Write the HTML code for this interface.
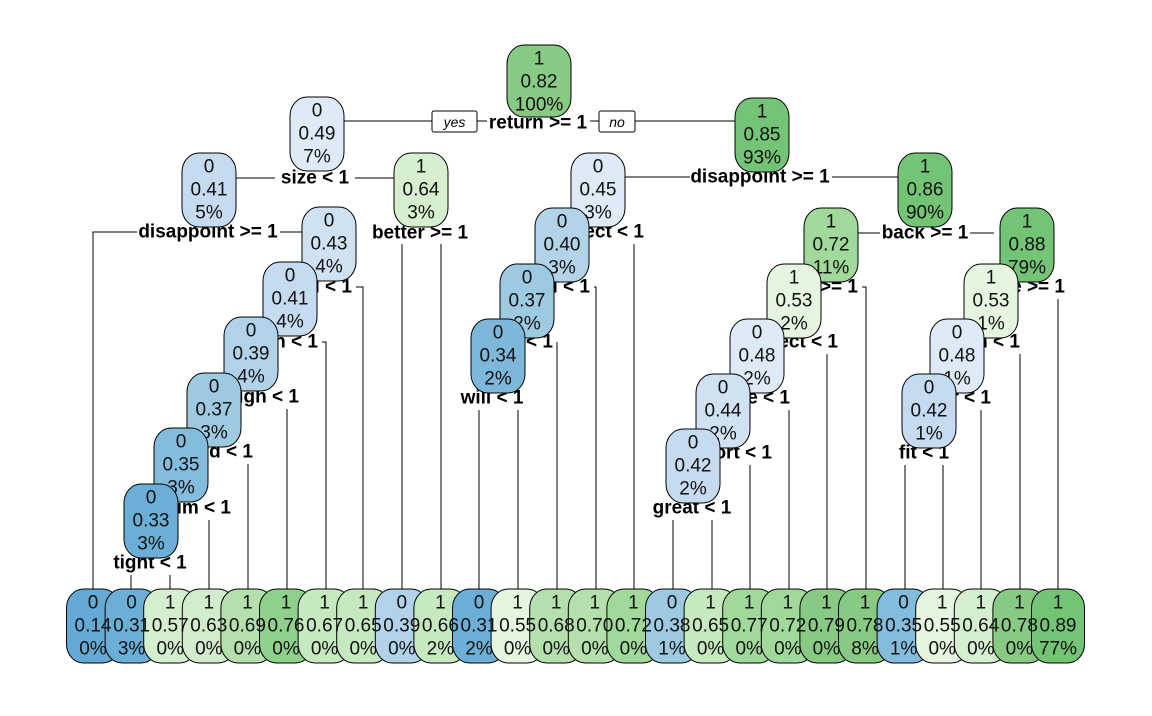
<!DOCTYPE html>
<html><head><meta charset="utf-8"><style>
html,body{margin:0;padding:0;background:#fff;}
svg text{font-family:"Liberation Sans",Arial,sans-serif;}
</style></head><body>
<svg id="s" xmlns="http://www.w3.org/2000/svg" width="1152" height="711" viewBox="0 0 1152 711">
<rect width="1152" height="711" fill="#fff"/>
<g id="lines" stroke="#000" stroke-width="1" fill="none"></g>
<g id="labels" font-weight="bold" font-size="19" fill="#000"></g>
<g id="nodes"></g>
<g id="ltext"></g>
</svg>
<script>
var NS="http://www.w3.org/2000/svg";
function el(p,t,a,txt){var e=document.createElementNS(NS,t);for(var k in a)e.setAttribute(k,a[k]);if(txt!==undefined)e.textContent=txt;document.getElementById(p).appendChild(e);return e;}
function line(x1,y1,x2,y2){el("lines","line",{x1:x1,y1:y1,x2:x2,y2:y2});}
function poly(pts){el("lines","polyline",{points:pts});}
function lab(x,y,t,anchor){el("labels","text",{x:x,y:y,"text-anchor":anchor||"middle","dominant-baseline":"central"},t);}
function col(v,c){
 var b={0.14:"#65aad4",0.31:"#6baed6",0.33:"#6baed6",0.34:"#7db8da",0.35:"#84bcdc",0.37:"#9ecae1",0.38:"#9ecae1",0.39:"#b1d2e8",0.40:"#b3d3e8",0.41:"#c6dbef",0.42:"#c6dbef",0.43:"#d0e1f2",0.44:"#d0e1f2",0.45:"#deebf7",0.48:"#deebf7",0.49:"#deebf7"};
 var g={0.53:"#e5f5e0",0.55:"#e5f5e0",0.57:"#d6eed0",0.63:"#d3ecce",0.64:"#d6efd0",0.65:"#c7e9c0",0.66:"#c7e9c0",0.67:"#c7e9c0",0.68:"#b5dfad",0.69:"#b5dfad",0.70:"#b5dfad",0.72:"#a1d99b",0.76:"#8fd18a",0.77:"#a1d99b",0.78:"#88ca84",0.79:"#88ca84",0.82:"#88ca84",0.85:"#74c476",0.86:"#74c476",0.88:"#74c476",0.89:"#74c476"};
 return (c=="0"?b[v]:g[v])||"#ccc";}
function node(cx,top,c,v,p,w,h,tg){
 w=w||54;h=h||74;tg=tg||"nodes";
 el("nodes","rect",{x:cx-w/2,y:top,width:w,height:h,rx:17,ry:19,fill:col(parseFloat(v),c),stroke:"#000","stroke-width":1});
 var a={"text-anchor":"middle","dominant-baseline":"central","font-size":"19",fill:"#111"};
 a.x=cx;
 a.y=top+14;el(tg,"text",a,c);
 a.y=top+37;el(tg,"text",a,v);
 a.y=top+60;el(tg,"text",a,p);
}
var LT=589;
function chain(list){list.forEach(function(c){lab(c[0],c[1],c[2],"end");
 if(c[3]>c[0]+3) poly((c[0]+4)+","+c[1]+" "+c[3]+","+c[1]+" "+c[3]+","+LT);
 else line(c[3],c[1]+12,c[3],LT);});}
// root
line(343,121,432,121);line(477,121,487,121);line(590,121,599,121);line(635,121,736,121);
el("lines","rect",{x:432,y:111,width:45,height:21,rx:2,fill:"#fff"});
el("lines","rect",{x:599,y:111,width:36,height:21,rx:2,fill:"#fff"});
el("labels","text",{x:454.5,y:122,"text-anchor":"middle","dominant-baseline":"central","font-size":"14","font-style":"italic","font-weight":"normal"},"yes");
el("labels","text",{x:617,y:122,"text-anchor":"middle","dominant-baseline":"central","font-size":"14","font-style":"italic","font-weight":"normal"},"no");
lab(538,123,"return >= 1");
// left subtree
line(236,178,275,178);line(355,178,395,178);lab(315,178,"size < 1");
poly("93,"+LT+" 93,232 137,232");lab(208,232,"disappoint >= 1");line(280,232,303,232);
lab(420,233,"better >= 1");line(402,244,402,LT);line(441,244,441,LT);
chain([[352,287,"l < 1",363],[318,342,"n < 1",326],[299,397,"igh < 1",287],[253,452,"id < 1",248],[231,508,"im < 1",209]]);
lab(150,563,"tight < 1");line(131,575,131,LT);line(170,575,170,LT);
// right subtree
line(625,177,690,177);line(832,177,898,177);lab(760,177,"disappoint >= 1");
chain([[644,232,"ect < 1",634],[590,287,"l < 1",596],[553,342,"< 1",557]]);
lab(492,398,"will < 1");line(479,410,479,LT);line(518,410,518,LT);
line(856,233,880,233);line(970,233,994,233);lab(925,233,"back >= 1");
chain([[858,287,">= 1",866],[838,342,"ect < 1",827],[790,398,"e < 1",789],[772,453,"ort < 1",750]]);
lab(692,508,"great < 1");line(673,520,673,LT);line(712,520,712,LT);
chain([[1065,287,"e >= 1",1058],[1020,342,"n < 1",1020],[991,398,"r < 1",981]]);
lab(924,453,"fit < 1");line(905,465,905,LT);line(943,465,943,LT);
// nodes
node(539,45,"1","0.82","100%",64,72);
node(317,97,"0","0.49","7%",54,74);
node(209,153,"0","0.41","5%");
node(421,153,"1","0.64","3%");
node(329,207,"0","0.43","4%");
node(290,262,"0","0.41","4%");
node(251,317,"0","0.39","4%");
node(214,373,"0","0.37","3%");
node(181,428,"0","0.35","3%");
node(151,484,"0","0.33","3%");
node(762,98,"1","0.85","93%");
node(598,153,"0","0.45","3%");
node(562,208,"0","0.40","3%");
node(527,264,"0","0.37","2%");
node(498,319,"0","0.34","2%");
node(925,153,"1","0.86","90%");
node(831,208,"1","0.72","11%");
node(1027,208,"1","0.88","79%");
node(794,264,"1","0.53","2%");
node(757,319,"0","0.48","2%");
node(723,374,"0","0.44","2%");
node(693,429,"0","0.42","2%");
node(991,264,"1","0.53","1%");
node(957,319,"0","0.48","1%");
node(929,374,"0","0.42","1%");
// leaves
var leaves=[["0","0.14","0%"],["0","0.31","3%"],["1","0.57","0%"],["1","0.63","0%"],["1","0.69","0%"],["1","0.76","0%"],["1","0.67","0%"],["1","0.65","0%"],["0","0.39","0%"],["1","0.66","2%"],["0","0.31","2%"],["1","0.55","0%"],["1","0.68","0%"],["1","0.70","0%"],["1","0.72","0%"],["0","0.38","1%"],["1","0.65","0%"],["1","0.77","0%"],["1","0.72","0%"],["1","0.79","0%"],["1","0.78","8%"],["0","0.35","1%"],["1","0.55","0%"],["1","0.64","0%"],["1","0.78","0%"],["1","0.89","77%"]];
leaves.forEach(function(l,i){var cx=93+i*(1058-93)/25;node(cx,LT,l[0],l[1],l[2],53,74,"ltext");});
</script>
</body></html>
